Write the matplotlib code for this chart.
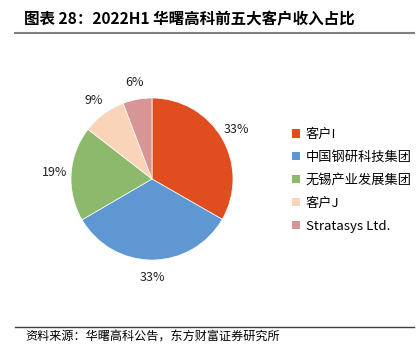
import matplotlib.pyplot as plt
from matplotlib.patches import Patch
from matplotlib.lines import Line2D

plt.rcParams['font.family'] = ['Noto Sans CJK SC', 'DejaVu Sans']

# data
customers = ['客户I', '中国钢研科技集团', '无锡产业发展集团', '客户J', 'Stratasys Ltd.']
shares = [33.3, 33.3, 18.9, 8.7, 5.8]
colors = ['#E04E1F', '#5F97D2', '#8DB96D', '#FAD4B8', '#D79595']

fig = plt.figure(figsize=(4.18, 3.52), dpi=100)

# title and rules
fig.text(0.058, 0.945, '图表 28：2022H1 华曙高科前五大客户收入占比',
         fontsize=11.2, fontweight='bold', va='center', ha='left')
fig.add_artist(Line2D([0.035, 0.99], [0.905, 0.905], color='#808080', lw=1.5))
fig.add_artist(Line2D([0.035, 0.99], [0.07, 0.07], color='#404040', lw=1.0))
fig.text(0.06, 0.045, '资料来源：华曙高科公告，东方财富证券研究所',
         fontsize=8.7, va='center', ha='left')

# pie
ax = fig.add_axes([(152 - 81)/418, 1 - (179 + 81)/352, 162/418, 162/352])
wedges, texts = ax.pie(shares, colors=colors, startangle=90, counterclock=False,
                       labels=[f'{v:.0f}%' for v in shares], labeldistance=1.21,
                       wedgeprops=dict(edgecolor='white', linewidth=0.5),
                       textprops=dict(fontsize=9, color='#222222'))
for t in texts:
    t.set_ha('center')
    t.set_va('center')
ax.set_xlim(-1, 1)
ax.set_ylim(-1, 1)
ax.set_aspect('equal')

# legend
handles = [Patch(facecolor=c, edgecolor='none') for c in colors]
fig.legend(handles, customers, loc='upper left', bbox_to_anchor=(0.67, 0.67),
           frameon=False, fontsize=9.5, handlelength=0.6, handleheight=0.6,
           handletextpad=0.45, labelspacing=0.75)

fig.savefig('out.png', dpi=100)
